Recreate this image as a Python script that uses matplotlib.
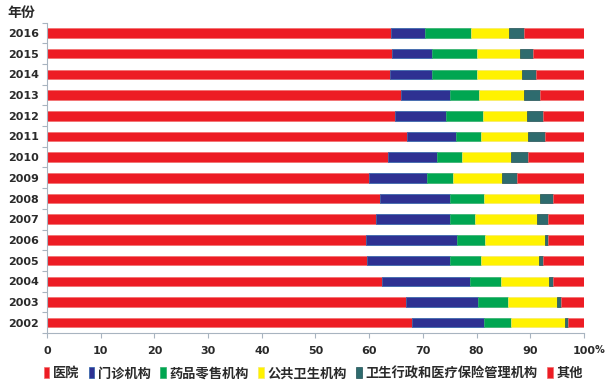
import matplotlib.pyplot as plt
import numpy as np

plt.rcParams['font.family'] = ['Noto Sans CJK SC', 'DejaVu Sans']

# 年份（从下往上）
years = ['2002', '2003', '2004', '2005', '2006', '2007', '2008', '2009',
         '2010', '2011', '2012', '2013', '2014', '2015', '2016']

# 各类机构占比 %
hospital = [68.0, 66.8, 62.4, 59.6, 59.4, 61.3, 62.0, 59.9,
            63.5, 67.1, 64.8, 66.0, 63.9, 64.2, 64.1]
clinic = [13.3, 13.5, 16.3, 15.4, 16.9, 13.7, 13.0, 10.9,
          9.2, 9.1, 9.6, 9.0, 7.8, 7.5, 6.3]
pharmacy = [5.2, 5.5, 5.8, 5.9, 5.2, 4.7, 6.3, 4.8,
            4.6, 4.6, 6.8, 5.4, 8.4, 8.4, 8.6]
public_health = [10.0, 9.2, 9.0, 10.8, 11.2, 11.5, 10.5, 9.1,
                 9.2, 8.8, 8.2, 8.4, 8.4, 8.0, 7.1]
admin = [0.6, 0.8, 0.7, 0.7, 0.6, 2.1, 2.5, 2.9,
         3.1, 3.1, 3.0, 3.0, 2.5, 2.5, 2.7]
other = [2.9, 4.2, 5.8, 7.6, 6.7, 6.7, 5.7, 12.4,
         10.4, 7.3, 7.6, 8.2, 9.0, 9.4, 11.2]

series = [hospital, clinic, pharmacy, public_health, admin, other]
names = ['医院', '门诊机构', '药品零售机构', '公共卫生机构', '卫生行政和医疗保险管理机构', '其他']
colors = ['#ED1C24', '#2E3192', '#00A651', '#FFF200', '#2E6B6E', '#ED1C24']
edges = ['#F26D6D', '#2B5FA8', '#2FAF6A', '#F5E96A', '#1F4F52', '#F26D6D']

fig = plt.figure(figsize=(6.06, 3.88), dpi=100)
ax = fig.add_axes([0.0776, 0.1418, 0.886, 0.7997])

y = np.arange(len(years))
left = np.zeros(len(years))
for vals, name, c, ec in zip(series, names, colors, edges):
    vals = np.array(vals)
    ax.barh(y, vals, left=left, height=0.46, color=c, edgecolor=ec,
            linewidth=0.5, label=name)
    left += vals

ax.set_xlim(0, 100)
ax.set_ylim(-0.5, len(years) - 0.5)
ax.set_xticks(np.arange(0, 101, 10))
ax.set_yticks(y)
ax.set_yticklabels(years)
ax.set_yticks(np.arange(-0.5, len(years), 1), minor=True)

for s in ['top', 'right']:
    ax.spines[s].set_visible(False)
for s in ['left', 'bottom']:
    ax.spines[s].set_color('#A8B4C0')
    ax.spines[s].set_linewidth(0.8)

ax.tick_params(axis='y', which='major', length=0, pad=6)
ax.tick_params(axis='y', which='minor', length=3.5, color='#A8B4C0', width=0.8)
ax.tick_params(axis='x', length=3.5, color='#A8B4C0', width=0.8, pad=6)
for lab in ax.get_xticklabels() + ax.get_yticklabels():
    lab.set_family('DejaVu Sans')
    lab.set_fontweight('bold')
    lab.set_fontsize(8)
    lab.set_color('#2A2A2A')

# "%" 紧跟在 100 后面
fig.text(0.981, 0.098, '%', fontsize=7, fontweight='bold',
         color='#2A2A2A', family='DejaVu Sans', va='center')
fig.text(0.013, 0.966, '年份', fontsize=10, fontweight='bold', color='#2A2A2A',
         va='center')

leg = fig.legend(loc='center', bbox_to_anchor=(0.517, 0.038), ncol=6,
                 frameon=False, handlelength=0.45, handleheight=0.9,
                 handletextpad=0.3, columnspacing=0.65, borderaxespad=0,
                 prop={'size': 9.5, 'weight': 'bold'})
for t in leg.get_texts():
    t.set_color('#2A2A2A')

fig.savefig('out.png', dpi=100)
